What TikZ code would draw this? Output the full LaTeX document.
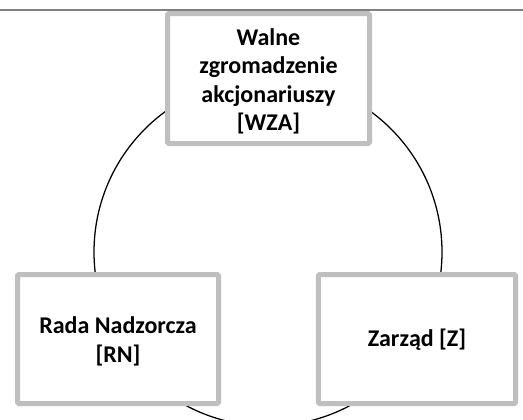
\documentclass[tikz,border=0pt]{standalone}
\usepackage{fontspec}
\setmainfont{Carlito}
\begin{document}
\begin{tikzpicture}[x=0.75pt,y=-0.75pt,
  box/.style={draw=boxgray, line width=3.75pt, fill=white, rounded corners=1pt, inner sep=0pt},
  label text/.style={align=center, inner sep=0pt,
    font=\bfseries\fontsize{18}{21.3}\selectfont},
  ring/.style={draw=black, line width=0.95pt, circle, inner sep=0pt, minimum size=261pt},
  rule/.style={draw=rulegray, line width=1.4pt}]
\definecolor{boxgray}{RGB}{191,191,191}
\definecolor{rulegray}{RGB}{128,128,128}
\useasboundingbox (0,0) rectangle (523,419);
\fill[white] (0,0) rectangle (523,419);
\coordinate (tl) at (0,10);
\coordinate (tr) at (523,10);
\draw[rule] (tl) -- (tr);
\node[ring] (cycle) at (268,252) {};
\node[box, minimum width=151.5pt, minimum height=97.5pt] (wza) at (268.5,78.5) {};
\node[box, minimum width=150.75pt, minimum height=96.75pt] (rn) at (118,339) {};
\node[box, minimum width=148pt, minimum height=96.75pt] (z) at (417,339) {};
\node[label text, yshift=-2.2pt] (wzatext) at (wza.center)
  {Walne\\zgromadzenie\\akcjonariuszy\\{[WZA]}};
\node[label text, yshift=-1.8pt] (rntext) at (rn.center) {Rada Nadzorcza\\{[RN]}};
\node[label text, yshift=-0.5pt] (ztext) at (z.center) {Zarząd [Z]};
\end{tikzpicture}
\end{document}
